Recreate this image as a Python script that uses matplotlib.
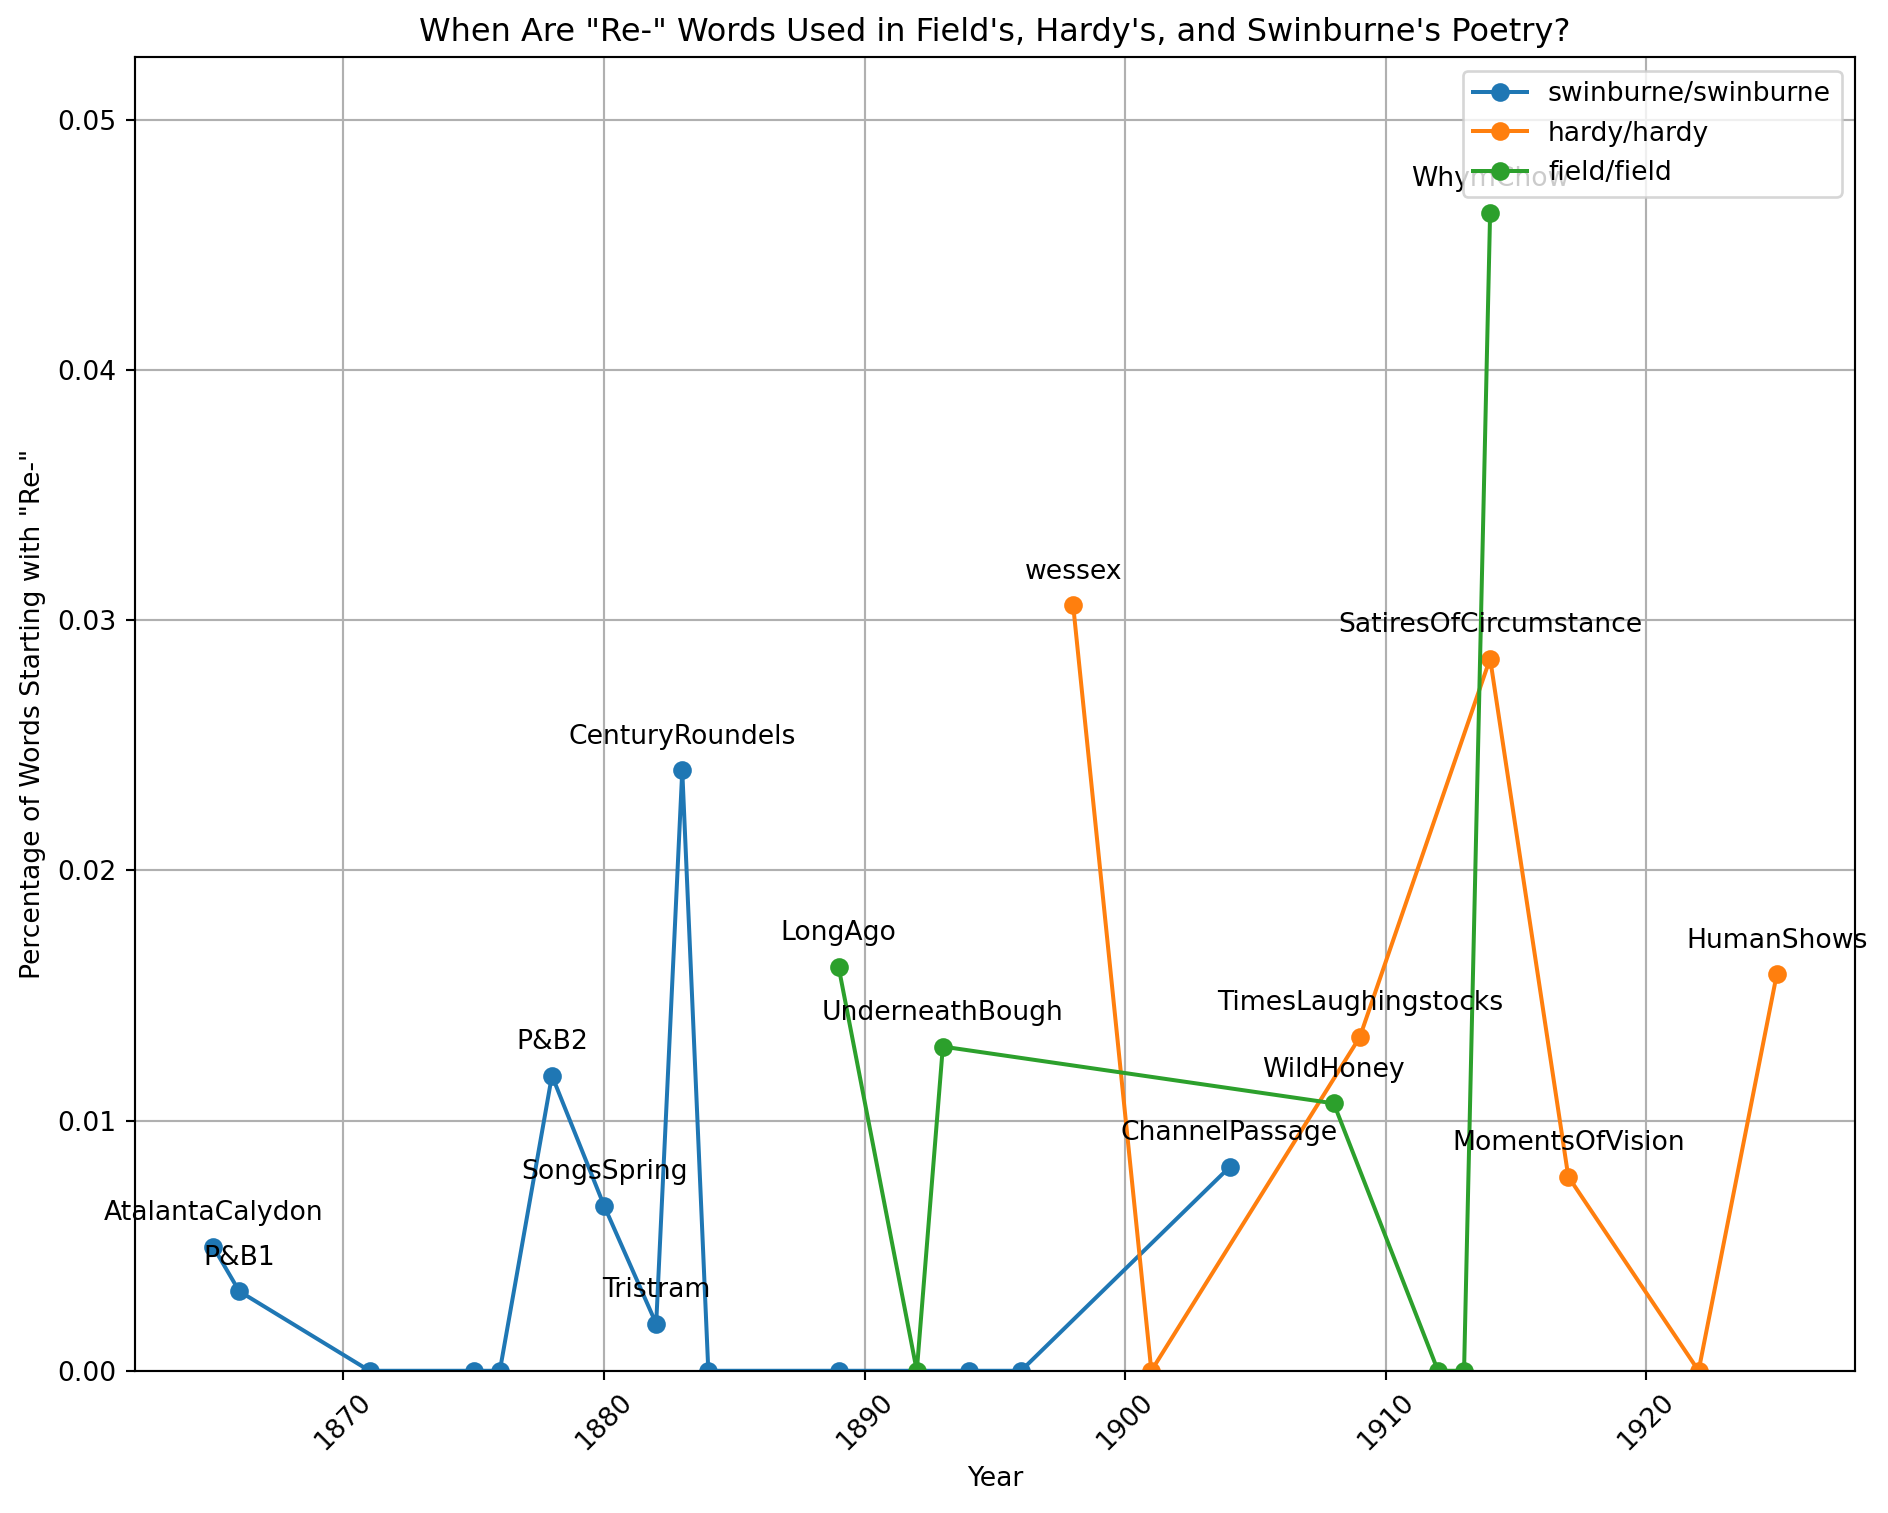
import matplotlib
matplotlib.use("Agg")
import matplotlib.pyplot as plt

# swinburne
swin_years = [1865, 1866, 1871, 1875, 1876, 1878, 1880, 1882, 1883, 1884, 1889, 1894, 1896, 1904]
swin_vals = [0.00496, 0.00318, 0.0, 0.0, 0.0, 0.0118, 0.0066, 0.00188, 0.0240, 0.0, 0.0, 0.0, 0.0, 0.00814]
swin_names = ['AtalantaCalydon', 'P&B1', '', '', '', 'P&B2', 'SongsSpring', 'Tristram',
              'CenturyRoundels', '', '', '', '', 'ChannelPassage']

# hardy
hardy_years = [1898, 1901, 1909, 1914, 1917, 1922, 1925]
hardy_vals = [0.0306, 0.0, 0.01334, 0.02847, 0.00776, 0.0, 0.01585]
hardy_names = ['wessex', '', 'TimesLaughingstocks', 'SatiresOfCircumstance',
               'MomentsOfVision', '', 'HumanShows']

# field
field_years = [1889, 1892, 1893, 1908, 1912, 1913, 1914]
field_vals = [0.01614, 0.0, 0.01296, 0.01069, 0.0, 0.0, 0.0463]
field_names = ['LongAgo', '', 'UnderneathBough', 'WildHoney', '', '', 'WhymChow']

series = [
    ('swinburne/swinburne', swin_years, swin_vals, swin_names),
    ('hardy/hardy', hardy_years, hardy_vals, hardy_names),
    ('field/field', field_years, field_vals, field_names),
]

dpi = 192
fig = plt.figure(figsize=(1888 / dpi, 1513 / dpi), dpi=dpi)
ax = fig.add_axes([0.0715, 0.094, 0.911, 0.868])

for label, years, vals, names in series:
    ax.plot(years, vals, marker='o', label=label)
    for x, y, name in zip(years, vals, names):
        if name:
            ax.annotate(name, (x, y), textcoords="offset points",
                        xytext=(0, 10), ha='center')

ax.set_xlim(1862, 1928)
ax.set_ylim(0, 0.0525)
ax.set_title('When Are "Re-" Words Used in Field\'s, Hardy\'s, and Swinburne\'s Poetry?')
ax.set_xlabel('Year')
ax.set_ylabel('Percentage of Words Starting with "Re-"')
ax.grid(True)
ax.legend(loc='upper right')
plt.setp(ax.get_xticklabels(), rotation=45)

fig.savefig('out.png', dpi=dpi)
